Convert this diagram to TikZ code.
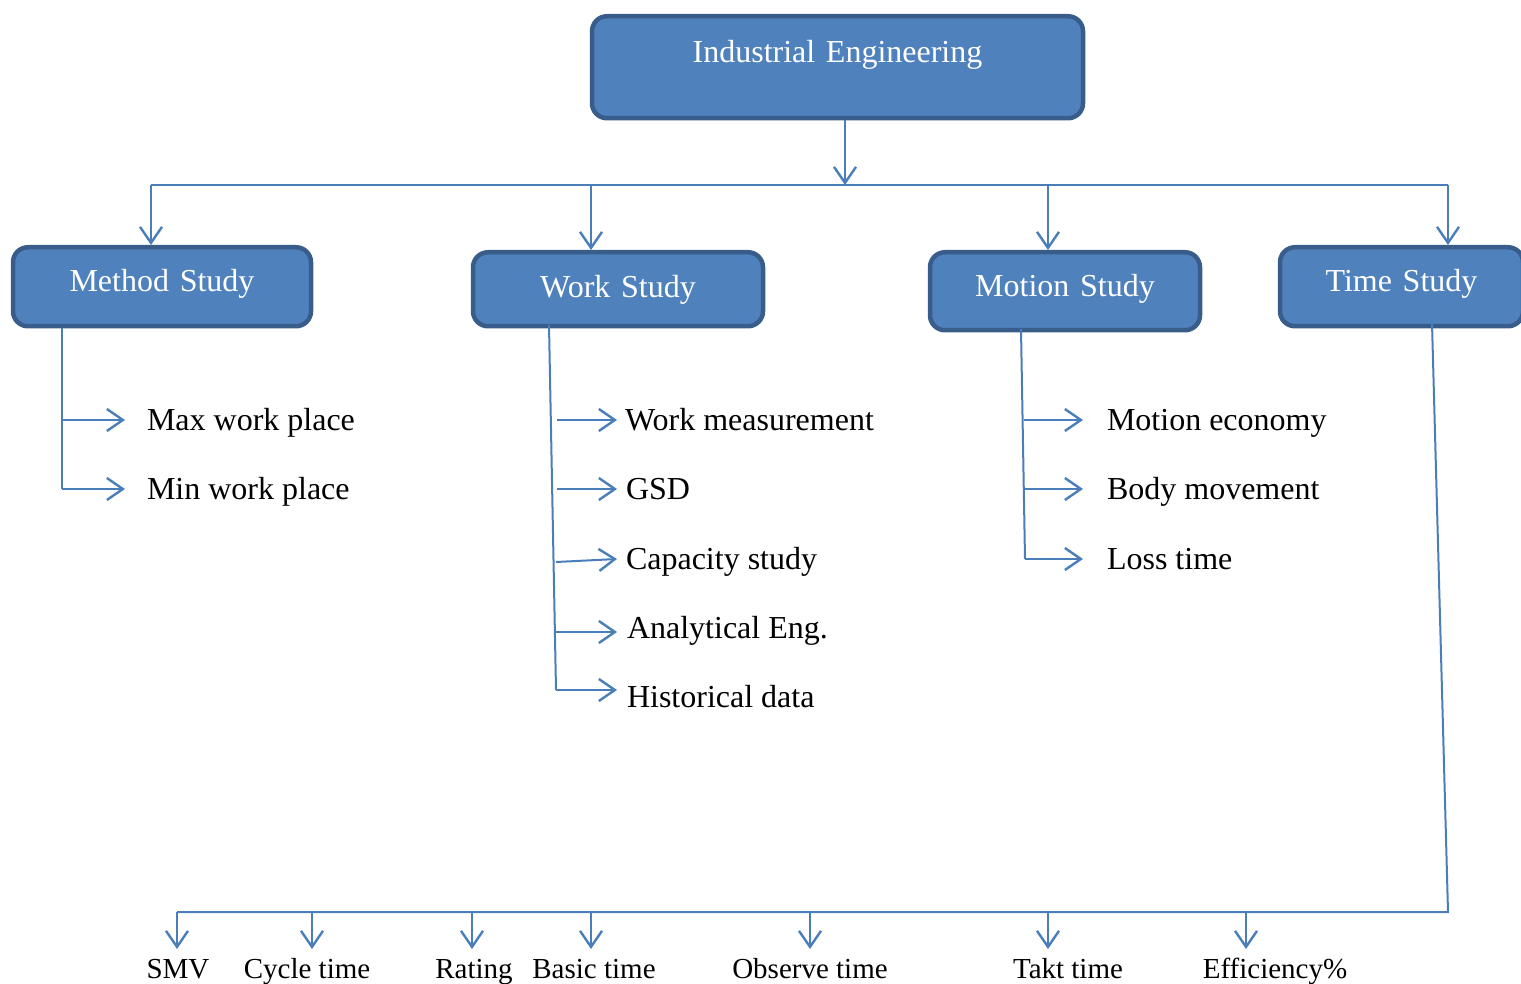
\documentclass[tikz,border=0pt]{standalone}
\usepackage{fontspec}
\setmainfont{Liberation Serif}
\usetikzlibrary{arrows.meta}
\definecolor{boxfill}{HTML}{4F81BD}
\definecolor{boxborder}{HTML}{385D8A}
\definecolor{linkc}{HTML}{4A7EBB}
\tikzset{
  box/.style={draw=boxborder, line width=4.5pt, fill=boxfill, rounded corners=15pt,
    text=white, inner sep=0pt, align=center, font=\fontsize{32}{38}\selectfont},
  wire/.style={draw=linkc, line width=2pt},
  conn/.style={wire, -{Straight Barb[length=16pt,width=22pt,line width=2.4pt]}},
  item/.style={inner sep=0pt, text height=21pt, text depth=0pt, anchor=west,
    font=\fontsize{32}{38}\selectfont},
  bitem/.style={inner sep=0pt, anchor=base, font=\fontsize{29}{34}\selectfont},
}
\begin{document}
\begin{tikzpicture}[x=1pt,y=-1pt]
\useasboundingbox (0,0) rectangle (1521,984);
\clip (0,0) rectangle (1521,984);

% boxes
\node[box, anchor=north, text width=491pt, text height=46pt, text depth=56pt] (ie) at (837.5,14) {Industrial Engineering};
\node[box, anchor=north, text width=298pt, text height=44pt, text depth=35pt] (method) at (162,245) {Method Study};
\node[box, anchor=north, text width=290pt, text height=45pt, text depth=29pt] (work) at (618,250) {Work Study};
\node[box, anchor=north, text width=270pt, text height=44pt, text depth=34pt] (motion) at (1065,250) {Motion Study};
\node[box, anchor=north, text width=243pt, text height=44pt, text depth=35pt] (time) at (1401.5,245) {Time Study};

% top distribution
\coordinate (hubL) at (151,185);
\coordinate (hubR) at (1448,185);
\coordinate (hubC) at (845,185);
\draw[conn] (ie.south -| hubC) -- (hubC);
\draw[wire] (hubL) -- (hubR);
\draw[conn] (hubL) -- (method.north -| hubL);
\draw[conn] (591,185) -- (work.north -| 591,0);
\draw[conn] (1048,185) -- (motion.north -| 1048,0);
\draw[conn] (hubR) -- (time.north -| hubR);

% method study items
\node[item, outer xsep=22pt] (maxwp) at (125,420) {Max work place};
\node[item, outer xsep=22pt] (minwp) at (125,489) {Min work place};
\coordinate (m1) at (62,420);
\coordinate (m2) at (62,489);
\draw[wire] (method.south -| m1) -- (m2);
\draw[conn] (m1) -- (maxwp.west);
\draw[conn] (m2) -- (minwp.west);

% work study items
\node[item, outer xsep=8pt] (wm) at (617,420) {Work measurement};
\node[item, outer xsep=9pt] (gsd) at (617,489) {GSD};
\node[item, outer xsep=9pt] (cap) at (617,559) {Capacity study};
\node[item, outer xsep=10pt] (ana) at (617,628) {Analytical Eng.};
\node[item, outer xsep=10pt] (hist) at (617,697) {Historical data};
\coordinate (wtop) at (549,325);
\coordinate (wbot) at (556,690);
\draw[wire] (wtop) -- (wbot);
\draw[conn] (557,420) -- (wm.west);
\draw[conn] (557,489) -- (gsd.west);
\draw[conn] (556,562) -- (cap.west);
\draw[conn] (556,632) -- (ana.west |- 0,632);
\draw[conn] (wbot) -- (hist.west |- wbot);

% motion study items
\node[item, outer xsep=24pt] (me) at (1083,420) {Motion economy};
\node[item, outer xsep=24pt] (bm) at (1083,489) {Body movement};
\node[item, outer xsep=24pt] (lt) at (1083,559) {Loss time};
\coordinate (mtop) at (1021,329);
\coordinate (mbot) at (1025,559);
\draw[wire] (mtop) -- (mbot);
\draw[conn] (1024,420) -- (me.west);
\draw[conn] (1025,489) -- (bm.west);
\draw[conn] (mbot) -- (lt.west);

% time study items
\coordinate (ttop) at (1432,323);
\coordinate (tcorner) at (1448,912);
\coordinate (tleft) at (177,912);
\draw[wire] (ttop) -- (tcorner) -- (tleft);

\node[bitem] (smv) at (178,978) {SMV};
\node[bitem] (cyc) at (307,978) {Cycle time};
\node[bitem] (rat) at (474,978) {Rating};
\node[bitem] (bas) at (594,978) {Basic time};
\node[bitem] (obs) at (810,978) {Observe time};
\node[bitem] (takt) at (1068,978) {Takt time};
\node[bitem] (eff) at (1275,978) {Efficiency\%};

\draw[conn] (tleft) -- (177,949);
\draw[conn] (312,912) -- (312,949);
\draw[conn] (472,912) -- (472,949);
\draw[conn] (591,912) -- (591,949);
\draw[conn] (810,912) -- (810,949);
\draw[conn] (1048,912) -- (1048,949);
\draw[conn] (1246,912) -- (1246,949);
\end{tikzpicture}
\end{document}
